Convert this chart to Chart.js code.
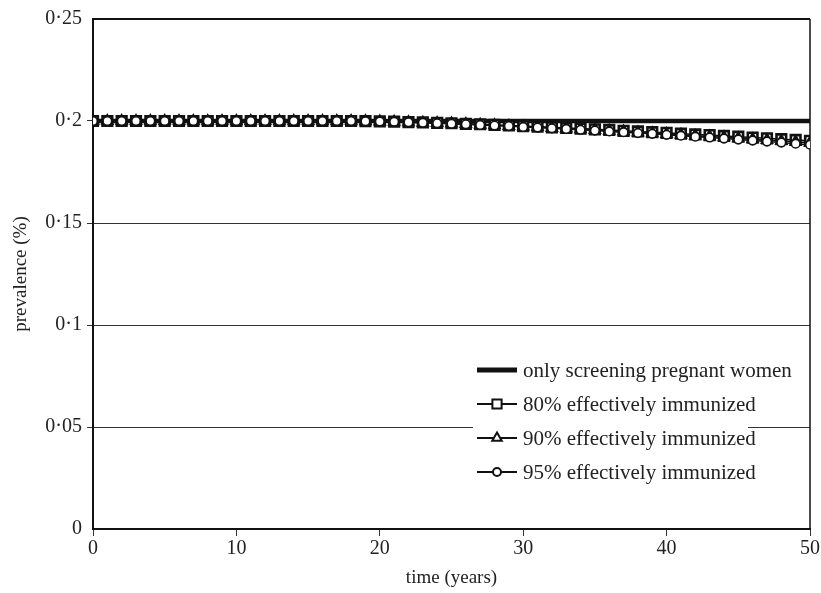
<!DOCTYPE html>
<html>
<head>
<meta charset="utf-8">
<script src="https://cdn.jsdelivr.net/npm/chart.js@4/dist/chart.umd.min.js"></script>
<style>
html, body { margin: 0; padding: 0; background: #fff; }
#wrap { width: 821px; height: 593px; }
</style>
</head>
<body>
<div id="wrap"><canvas id="grafico"></canvas></div>
<script>
// anos (eixo x)
var anos = [0, 1, 2, 3, 4, 5, 6, 7, 8, 9, 10, 11, 12, 13, 14, 15, 16, 17, 18, 19, 20,
    21, 22, 23, 24, 25, 26, 27, 28, 29, 30, 31, 32, 33, 34, 35, 36, 37, 38, 39, 40,
    41, 42, 43, 44, 45, 46, 47, 48, 49, 50];

var nomesSeries = ["only screening pregnant women", "80% effectively immunized",
    "90% effectively immunized", "95% effectively immunized"];

// so triagem das gestantes
var soTriagem = [0.2, 0.2, 0.2, 0.2, 0.2, 0.2, 0.2, 0.2, 0.2, 0.2, 0.2,
    0.2, 0.2, 0.2, 0.2, 0.2, 0.2, 0.2, 0.2, 0.2, 0.2,
    0.2, 0.2, 0.2, 0.2, 0.2, 0.2, 0.2, 0.2, 0.2, 0.2,
    0.2, 0.2, 0.2, 0.2, 0.2, 0.2, 0.2, 0.2, 0.2, 0.2,
    0.2, 0.2, 0.2, 0.2, 0.2, 0.2, 0.2, 0.2, 0.2, 0.2];

var imun80 = [0.2, 0.2, 0.2, 0.2, 0.2, 0.2, 0.2, 0.2, 0.2, 0.2, 0.2,
    0.2, 0.2, 0.2, 0.2, 0.2, 0.2, 0.2, 0.2, 0.1999, 0.1998,
    0.1997, 0.1995, 0.1993, 0.1991, 0.1989, 0.1986, 0.1984, 0.1981, 0.1978, 0.1975,
    0.1972, 0.1969, 0.1966, 0.1963, 0.1959, 0.1956, 0.1952, 0.1949, 0.1945, 0.1942,
    0.1938, 0.1934, 0.1931, 0.1927, 0.1923, 0.1919, 0.1915, 0.1911, 0.1907, 0.1903];

var imun90 = [0.2, 0.2, 0.2, 0.2, 0.2, 0.2, 0.2, 0.2, 0.2, 0.2, 0.2,
    0.2, 0.2, 0.2, 0.2, 0.2, 0.2, 0.2, 0.2, 0.1999, 0.1998,
    0.1996, 0.1994, 0.1992, 0.199, 0.1988, 0.1985, 0.1982, 0.1979, 0.1976, 0.1973,
    0.197, 0.1966, 0.1963, 0.1959, 0.1956, 0.1952, 0.1948, 0.1944, 0.194, 0.1936,
    0.1932, 0.1928, 0.1924, 0.192, 0.1915, 0.1911, 0.1907, 0.1902, 0.1898, 0.1893];

var imun95 = [0.2, 0.2, 0.2, 0.2, 0.2, 0.2, 0.2, 0.2, 0.2, 0.2, 0.2,
    0.2, 0.2, 0.2, 0.2, 0.2, 0.2, 0.2, 0.2, 0.1999, 0.1998,
    0.1996, 0.1994, 0.1992, 0.1989, 0.1987, 0.1984, 0.1981, 0.1978, 0.1975, 0.1971,
    0.1968, 0.1964, 0.1961, 0.1957, 0.1953, 0.1949, 0.1945, 0.1941, 0.1937, 0.1932,
    0.1928, 0.1923, 0.1919, 0.1914, 0.1909, 0.1904, 0.1899, 0.1894, 0.1889, 0.1884];

// ticks
var ticksY = [0, 0.05, 0.1, 0.15, 0.2, 0.25];
var rotulosY = ["0", "0·05", "0·1", "0·15", "0·2", "0·25"];
var ticksX = [0, 10, 20, 30, 40, 50];

var fonte = "'Liberation Serif', 'Times New Roman', serif";
var preto = "#111";

function pontos(valores) {
    return anos.map(function(a, i) { return { x: a, y: valores[i] }; });
}

// desenha o marcador (quadrado, triangulo ou circulo)
function marcador(ctx, estilo, x, y, r, larg) {
    ctx.beginPath();
    if (estilo === "rect") {
        var s = r * Math.SQRT1_2;
        ctx.rect(x - s, y - s, 2 * s, 2 * s);
    } else if (estilo === "triangle") {
        ctx.moveTo(x, y - r);
        ctx.lineTo(x + r * 0.866, y + r * 0.5);
        ctx.lineTo(x - r * 0.866, y + r * 0.5);
        ctx.closePath();
    } else {
        ctx.arc(x, y, r, 0, Math.PI * 2);
    }
    ctx.fillStyle = "#fff";
    ctx.fill();
    ctx.lineWidth = larg;
    ctx.strokeStyle = preto;
    ctx.stroke();
}

// moldura (topo e direita)
var moldura = {
    id: "moldura",
    beforeDatasetsDraw: function(chart) {
        var a = chart.chartArea, ctx = chart.ctx;
        ctx.save();
        ctx.strokeStyle = preto;
        ctx.lineWidth = 2;
        ctx.beginPath();
        ctx.moveTo(a.left, a.top);
        ctx.lineTo(a.right, a.top);
        ctx.stroke();
        ctx.lineWidth = 1.5;
        ctx.beginPath();
        ctx.moveTo(a.right, a.top);
        ctx.lineTo(a.right, a.bottom);
        ctx.stroke();
        ctx.restore();
    }
};

// legenda dentro do grafico
var legenda = {
    id: "legenda",
    afterDraw: function(chart) {
        var a = chart.chartArea, ctx = chart.ctx;
        var x0 = a.left + 384, y0 = a.top + 351;
        ctx.save();
        ctx.fillStyle = "#fff";
        ctx.fillRect(x0 - 4, y0 - 20, 275, 142);
        var estilos = [null, "rect", "triangle", "circle"];
        var raios = [0, 6.5, 5.5, 4];
        chart.data.datasets.forEach(function(ds, i) {
            var y = y0 + i * 34;
            ctx.strokeStyle = preto;
            ctx.lineWidth = i === 0 ? 5 : 2;
            ctx.beginPath();
            ctx.moveTo(x0, y);
            ctx.lineTo(x0 + 40, y);
            ctx.stroke();
            if (estilos[i]) marcador(ctx, estilos[i], x0 + 20, y, raios[i], 2);
            ctx.fillStyle = "#222";
            ctx.font = "21px " + fonte;
            ctx.textBaseline = "middle";
            ctx.textAlign = "left";
            ctx.fillText(ds.label, x0 + 46, y + 1);
        });
        ctx.restore();
    }
};

var config = {
    type: "line",
    data: {
        datasets: [
            {
                label: nomesSeries[0],
                data: pontos(soTriagem),
                borderColor: preto,
                borderWidth: 4.5,
                pointRadius: 0,
                order: 3
            },
            {
                label: nomesSeries[1],
                data: pontos(imun80),
                borderColor: preto,
                borderWidth: 1.5,
                pointStyle: "rect",
                pointRadius: 6.8,
                pointBorderWidth: 2.6,
                pointBackgroundColor: "#fff",
                pointBorderColor: preto,
                order: 2
            },
            {
                label: nomesSeries[2],
                data: pontos(imun90),
                borderColor: preto,
                borderWidth: 1.5,
                pointStyle: "triangle",
                pointRadius: 5.5,
                pointBorderWidth: 2.5,
                pointBackgroundColor: "#fff",
                pointBorderColor: preto,
                order: 1
            },
            {
                label: nomesSeries[3],
                data: pontos(imun95),
                borderColor: preto,
                borderWidth: 1.5,
                pointStyle: "circle",
                pointRadius: 4.3,
                pointBorderWidth: 1.6,
                pointBackgroundColor: "#fff",
                pointBorderColor: preto,
                order: 0
            }
        ]
    },
    options: {
        responsive: true,
        maintainAspectRatio: false,
        animation: false,
        layout: { padding: { left: 0, right: 11, top: 19, bottom: 0 } },
        plugins: {
            legend: { display: false },
            tooltip: { enabled: false }
        },
        scales: {
            x: {
                type: "linear",
                min: 0,
                max: 50,
                afterBuildTicks: function(s) { s.ticks = ticksX.map(function(v) { return { value: v }; }); },
                afterFit: function(s) { s.height = 64; },
                border: { display: true, color: preto, width: 2 },
                grid: { drawOnChartArea: false, drawTicks: true, tickLength: 7, color: "#333", lineWidth: 1 },
                ticks: { color: "#222", font: { family: fonte, size: 20 }, padding: 1, maxRotation: 0 },
                title: {
                    display: true,
                    text: "time (years)",
                    color: "#222",
                    font: { family: fonte, size: 19 },
                    padding: { top: 0, bottom: 4 }
                }
            },
            y: {
                min: 0,
                max: 0.25,
                afterBuildTicks: function(s) { s.ticks = ticksY.map(function(v) { return { value: v }; }); },
                afterFit: function(s) { s.width = 93; },
                border: { display: true, color: preto, width: 2 },
                grid: {
                    color: function(c) { return (c.tick && (c.tick.value === 0 || c.tick.value === 0.25)) ? "rgba(0,0,0,0)" : "#333"; },
                    lineWidth: 1,
                    drawTicks: true,
                    tickLength: 6
                },
                ticks: {
                    color: "#222",
                    font: { family: fonte, size: 20 },
                    padding: 5,
                    callback: function(v) {
                        var i = ticksY.indexOf(v);
                        return i >= 0 ? rotulosY[i] : "";
                    }
                },
                title: {
                    display: true,
                    text: "prevalence (%)",
                    color: "#222",
                    font: { family: fonte, size: 19 },
                    padding: { top: 10, bottom: 0 }
                }
            }
        }
    },
    plugins: [moldura, legenda]
};

var meuGrafico = new Chart(document.getElementById("grafico"), config);
</script>
</body>
</html>
